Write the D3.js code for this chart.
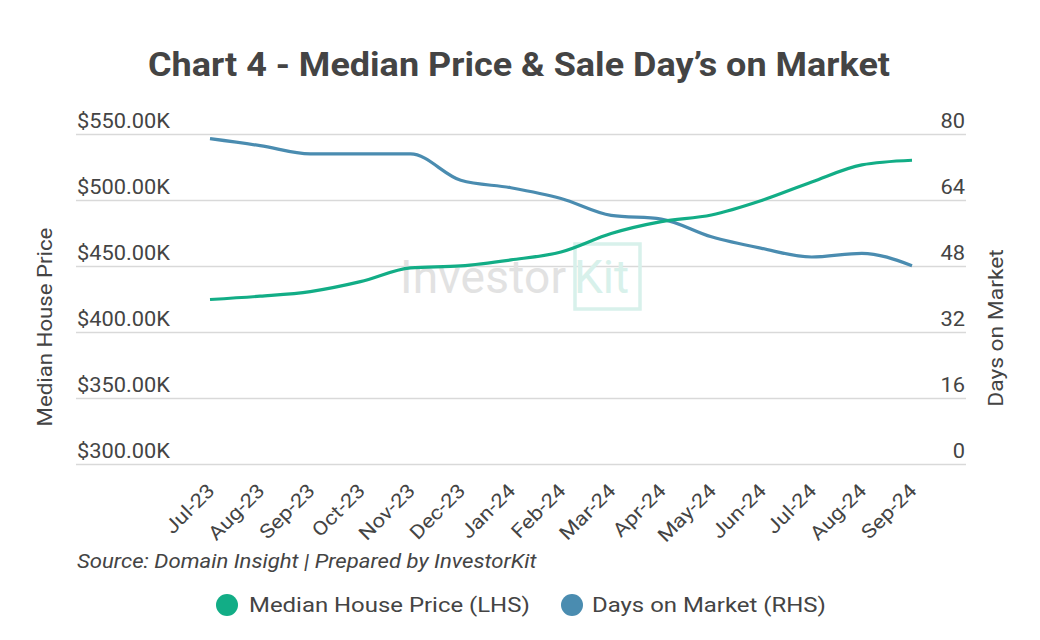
<!DOCTYPE html>
<html>
<head>
<meta charset="utf-8">
<script src="https://cdn.jsdelivr.net/npm/d3@7"></script>
<style>
  html, body { margin: 0; padding: 0; background: #fff; }
  svg { display: block; font-family: Roboto, "Noto Sans", sans-serif; }
</style>
</head>
<body>
<svg id="chart" width="1040" height="640"></svg>
<script>
const months = ["Jul-23","Aug-23","Sep-23","Oct-23","Nov-23","Dec-23","Jan-24","Feb-24","Mar-24","Apr-24","May-24","Jun-24","Jul-24","Aug-24","Sep-24"];
const medianPrice = [425000, 427500, 431000, 438500, 449000, 450500, 455000, 461000, 475000, 484000, 489000, 500000, 514000, 527000, 530500];
const daysOnMarket = [79, 77.3, 75.3, 75.3, 75.3, 68.9, 67.1, 64.5, 60.4, 59.5, 55.2, 52.4, 50.3, 51.2, 48.2];
const priceTicks = [300000, 350000, 400000, 450000, 500000, 550000];
const daysTicks = [0, 16, 32, 48, 64, 80];

const title = "Chart 4 - Median Price & Sale Day\u2019s on Market";
const source = "Source: Domain Insight | Prepared by InvestorKit";
const seriesNames = ["Median House Price (LHS)", "Days on Market (RHS)"];
const colors = ["#12ad86", "#4a8cb0"];
const textColor = "#444444";

const svg = d3.select("#chart");

const gridLeft = 76, gridRight = 966;
const x = d3.scalePoint().domain(months).range([210, 912]);
const yL = d3.scaleLinear().domain([300000, 550000]).range([464.5, 134.5]);
const yR = d3.scaleLinear().domain([0, 80]).range([464.5, 134.5]);

// title
svg.append("text").attr("transform", "translate(519,76) scale(1.075,1)").attr("text-anchor", "middle")
  .attr("font-size", 33.5).attr("font-weight", 700).attr("fill", textColor).text(title);

// gridlines
svg.append("g").selectAll("line").data(priceTicks).join("line")
  .attr("x1", gridLeft).attr("x2", gridRight)
  .attr("y1", d => yL(d)).attr("y2", d => yL(d))
  .attr("stroke", "#d9d9d9").attr("stroke-width", 1.5);

// watermark
const wm = svg.append("g");
wm.append("text").attr("x", 400).attr("y", 293).attr("font-size", 46).attr("font-weight", 400)
  .attr("fill", "#e2e2e2").attr("textLength", 166).text("Investor");
wm.append("rect").attr("x", 575).attr("y", 244).attr("width", 65).attr("height", 65)
  .attr("fill", "none").attr("stroke", "#d8f1eb").attr("stroke-width", 3.5);
wm.append("text").attr("x", 574).attr("y", 293).attr("font-size", 46).attr("font-weight", 400)
  .attr("fill", "#d8f1eb").text("Kit");

// left axis labels
const fmtPrice = d => "$" + d3.format(".2f")(d / 1000) + "K";
svg.append("g").selectAll("text").data(priceTicks).join("text")
  .attr("transform", d => `translate(77,${yL(d) - 6.5}) scale(1.12,1)`)
  .attr("font-size", 19.5).attr("fill", textColor).text(fmtPrice);

// right axis labels
svg.append("g").selectAll("text").data(daysTicks).join("text")
  .attr("transform", d => `translate(965,${yR(d) - 6.5}) scale(1.12,1)`)
  .attr("text-anchor", "end")
  .attr("font-size", 19.5).attr("fill", textColor).text(d => d);

// axis titles
svg.append("text").attr("transform", "translate(52,327) rotate(-90) scale(1.14,1)")
  .attr("text-anchor", "middle").attr("font-size", 19.5).attr("fill", textColor)
  .text("Median House Price");
svg.append("text").attr("transform", "translate(1003,328) rotate(-90) scale(1.17,1)")
  .attr("text-anchor", "middle").attr("font-size", 19.5).attr("fill", textColor)
  .text("Days on Market");

// x axis labels
svg.append("g").selectAll("text").data(months).join("text")
  .attr("transform", d => `translate(${x(d) - 4},${482}) rotate(-45) scale(1.14,1)`)
  .attr("text-anchor", "end").attr("font-size", 19.5).attr("fill", textColor)
  .attr("dy", "0.71em").text(d => d);

// lines
const lineL = d3.line().x((d, i) => x(months[i])).y(d => yL(d)).curve(d3.curveMonotoneX);
const lineR = d3.line().x((d, i) => x(months[i])).y(d => yR(d)).curve(d3.curveMonotoneX);
svg.append("path").attr("d", lineR(daysOnMarket)).attr("fill", "none")
  .attr("stroke", colors[1]).attr("stroke-width", 3.2);
svg.append("path").attr("d", lineL(medianPrice)).attr("fill", "none")
  .attr("stroke", colors[0]).attr("stroke-width", 3.2);

// source
svg.append("text").attr("transform", "translate(77,568) scale(1.136,1)").attr("font-size", 19.5)
  .attr("font-style", "italic").attr("fill", textColor).text(source);

// legend
const leg = svg.append("g");
const legItems = [{x: 227, tx: 249}, {x: 572, tx: 592}];
legItems.forEach((it, i) => {
  leg.append("circle").attr("cx", it.x).attr("cy", 605).attr("r", 11).attr("fill", colors[i]);
  leg.append("text").attr("transform", `translate(${it.tx},612) scale(1.14,1)`).attr("font-size", 21)
    .attr("fill", textColor).text(seriesNames[i]);
});
</script>
</body>
</html>
